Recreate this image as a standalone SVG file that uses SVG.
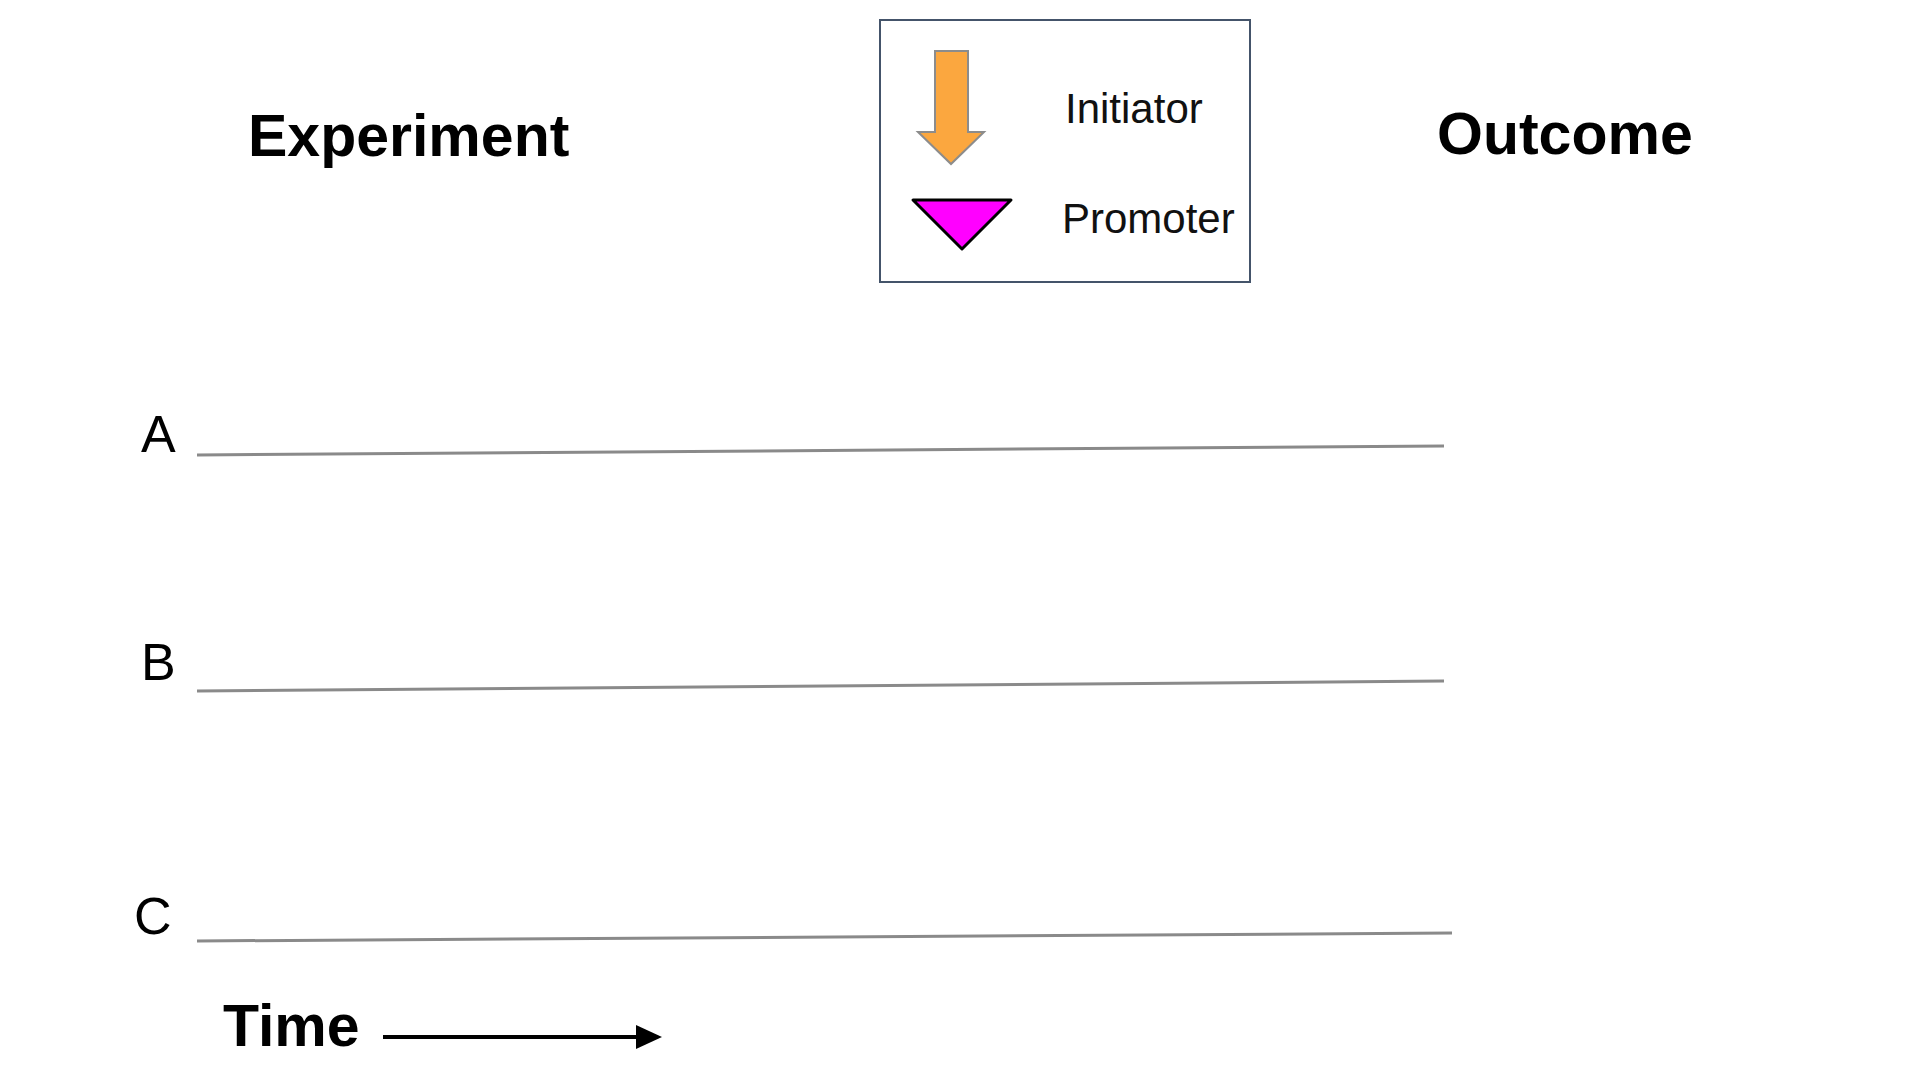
<svg xmlns="http://www.w3.org/2000/svg" width="1920" height="1080" viewBox="0 0 1920 1080">
<style>
.title{font-family:"Liberation Sans",Arial,sans-serif;font-weight:bold;font-size:59px;fill:#000}
.leg{font-family:"Liberation Sans",Arial,sans-serif;font-size:42px;fill:#111}
.lab{font-family:"Liberation Sans",Arial,sans-serif;font-size:52px;fill:#000}
.track{stroke:#8a8a8a;stroke-width:3;fill:none}
</style>
<rect width="1920" height="1080" fill="#fff"/>
<g id="title-experiment"><text class="title" x="248" y="156">Experiment</text></g>
<g id="title-outcome"><text class="title" x="1437" y="154">Outcome</text></g>
<g id="legend">
  <rect x="880" y="20" width="370" height="262" fill="#fff" stroke="#44546A" stroke-width="2"/>
  <polygon points="935,51 968,51 968,132 984,132 951,164 918,132 935,132" fill="#FBA73F" stroke="#8c8c8c" stroke-width="2"/>
  <text class="leg" x="1065" y="123">Initiator</text>
  <polygon points="913,200 1011,200 962,249" fill="#FF00FF" stroke="#000" stroke-width="3" stroke-linejoin="round"/>
  <text class="leg" x="1062" y="233">Promoter</text>
</g>
<g id="row-A"><text class="lab" x="141" y="452">A</text></g>
<g id="row-B"><text class="lab" x="141" y="680">B</text></g>
<g id="row-C"><text class="lab" x="134" y="934">C</text></g>
<g id="time"><text class="title" x="223" y="1046">Time</text></g>
<g id="connectors">
  <line class="track" x1="197" y1="455" x2="1444" y2="446"/>
  <line class="track" x1="197" y1="691" x2="1444" y2="681"/>
  <line class="track" x1="197" y1="941" x2="1452" y2="933"/>
  <line x1="383" y1="1037" x2="640" y2="1037" stroke="#000" stroke-width="4"/>
  <polygon points="636,1025 662,1037 636,1049" fill="#000"/>
</g>
</svg>
